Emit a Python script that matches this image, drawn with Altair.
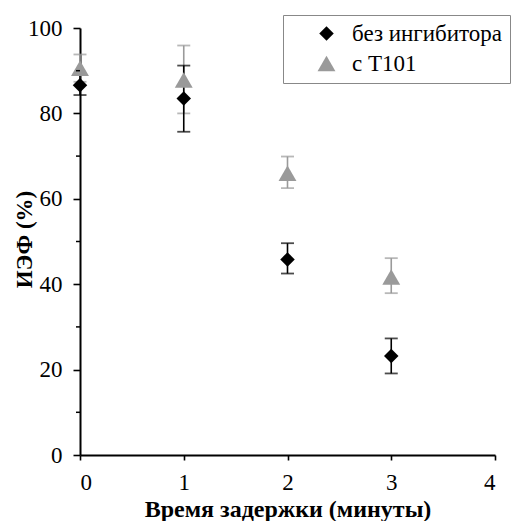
import altair as alt
import pandas as pd

times = [0, 1, 2, 3]
series_names = ["без ингибитора", "с Т101"]
no_inhib = [86.6, 83.5, 45.8, 23.2]
no_inhib_lo = [84.3, 75.7, 42.5, 19.1]
no_inhib_hi = [89.0, 91.2, 49.6, 27.3]
t101 = [90.6, 87.8, 66.0, 41.7]
t101_lo = [87.4, 80.0, 62.5, 37.9]
t101_hi = [93.8, 95.9, 69.9, 46.1]
minor_ticks = [10, 30, 50, 70, 90]

rows = []
for i, t in enumerate(times):
    rows.append(dict(t=t, s=series_names[1], v=t101[i], lo=t101_lo[i], hi=t101_hi[i], order=0))
for i, t in enumerate(times):
    rows.append(dict(t=t, s=series_names[0], v=no_inhib[i], lo=no_inhib_lo[i], hi=no_inhib_hi[i], order=1))
df = pd.DataFrame(rows)

FONT = "Liberation Serif, DejaVu Serif, Times New Roman, serif"
colors = ["#000000", "#9a9a9a"]
X_TITLE = "Время задержки (минуты)"
Y_TITLE = "ИЭФ (%)"

xs = alt.Scale(domain=[0, 4], nice=False, zero=False)
ys = alt.Scale(domain=[0, 100], nice=False)

x_axis = alt.Axis(values=[0, 1, 2, 3, 4], format="d", tickSize=5, labelPadding=11,
                  labelFontSize=23, labelFont=FONT,
                  titleFontSize=24, titleY=61, titleBaseline="alphabetic")
y_axis = alt.Axis(values=[0, 20, 40, 60, 80, 100], tickSize=7, labelPadding=11,
                  labelFontSize=23, labelFont=FONT,
                  titleFontSize=23, titleX=-49, titleY=211, titleBaseline="alphabetic")

leg = alt.Legend(orient="none", legendX=203, legendY=-13,
                 strokeColor="#888888", padding=7,
                 symbolOffset=25, labelFontSize=23,
                 labelFont=FONT, symbolSize=45,
                 rowPadding=6, labelOffset=14,
                 symbolStrokeWidth=0, title=None)


def X(field):
    return alt.X(field, scale=xs, title=X_TITLE, axis=x_axis)


def Y(field):
    return alt.Y(field, scale=ys, title=Y_TITLE, axis=y_axis)


base = alt.Chart(df)


def bars(name, col):
    b = base.transform_filter(alt.datum.s == name)
    r = b.mark_rule(strokeWidth=1.6, color=col).encode(x=X("t:Q"), y=Y("lo:Q"), y2="hi:Q")
    lo = b.mark_tick(thickness=1.8, size=13, orient="horizontal", color=col).encode(
        x=X("t:Q"), y=Y("lo:Q"))
    hi = b.mark_tick(thickness=1.8, size=13, orient="horizontal", color=col).encode(
        x=X("t:Q"), y=Y("hi:Q"))
    return [r, lo, hi]


points = base.mark_point(filled=True, opacity=1, strokeWidth=0).encode(
    x=X("t:Q"),
    y=Y("v:Q"),
    color=alt.Color("s:N", scale=alt.Scale(domain=series_names, range=colors), legend=leg),
    shape=alt.Shape("s:N", scale=alt.Scale(domain=series_names, range=["diamond", "triangle-up"]),
                    legend=leg),
    size=alt.Size("s:N", scale=alt.Scale(domain=series_names, range=[210, 320]), legend=None),
    order="order:Q",
)

minor = alt.Chart(pd.DataFrame({"m": minor_ticks})).mark_rule(color="black", strokeWidth=1.5).encode(
    y=Y("m:Q"), x=alt.value(-4), x2=alt.value(0))

chart = alt.layer(
    *bars(series_names[1], colors[1]), *bars(series_names[0], colors[0]), points, minor
).properties(
    width=415, height=427,
    autosize=alt.AutoSizeParams(type="none"),
    padding={"left": 80, "top": 28, "right": 24, "bottom": 66},
).configure(font=FONT).configure_view(stroke=None).configure_axis(
    labelColor="black", titleColor="black", grid=False,
    labelFont=FONT, titleFont=FONT, labelFontSize=23, titleFontWeight="bold",
    domainColor="black", tickColor="black", domainWidth=2, tickWidth=1.6,
)

chart.save("out.html", embed_options={"renderer": "svg", "actions": False})
